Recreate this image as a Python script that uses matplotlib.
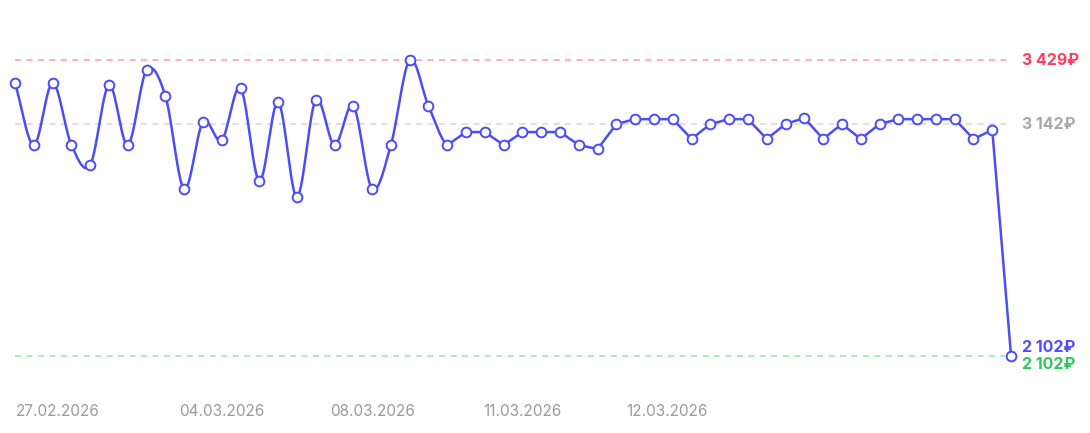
import numpy as np
import matplotlib.pyplot as plt

plt.rcParams['font.family'] = ['Inter', 'DejaVu Sans']

# price per point (RUB)
prices = [3326, 3048, 3326, 3048, 2958, 3317, 3048, 3384, 3268, 2851,
          3151, 3070, 3303, 2887, 3241, 2815, 3250, 3048, 3223, 2851,
          3048, 3429, 3223, 3048, 3106, 3106, 3048, 3106, 3106, 3106,
          3048, 3030, 3142, 3164, 3164, 3164, 3075, 3142, 3164, 3164,
          3075, 3142, 3169, 3075, 3142, 3075, 3142, 3164, 3164, 3164,
          3164, 3075, 3115, 2102]
date_labels = ["27.02.2026", "04.03.2026", "08.03.2026", "11.03.2026", "12.03.2026"]
date_pos = [2.25, 11, 19, 27, 34.7]

max_price = 3429
avg_price = 3142
min_price = 2102
last_price = 2102

blue = '#4d4df5'
idx = np.arange(len(prices))
vals = np.array(prices, dtype=float)

# the first part of the line is drawn smoothed (catmull-rom), the rest straight
smooth_end = 23
px, py = [], []
for i in range(smooth_end):
    p0 = vals[max(i - 1, 0)]
    p1 = vals[i]
    p2 = vals[i + 1]
    p3 = vals[min(i + 2, len(vals) - 1)]
    m1 = (p2 - p0) / 2 if i > 0 else (p2 - p1)
    m2 = (p3 - p1) / 2
    t = np.linspace(0, 1, 30)
    h00 = 2 * t**3 - 3 * t**2 + 1
    h10 = t**3 - 2 * t**2 + t
    h01 = -2 * t**3 + 3 * t**2
    h11 = t**3 - t**2
    px.extend(i + t)
    py.extend(h00 * p1 + h10 * m1 + h01 * p2 + h11 * m2)
px.extend(idx[smooth_end:])
py.extend(vals[smooth_end:])

fig = plt.figure(figsize=(10.9, 4.33), dpi=100)
ax = fig.add_axes([0, 0, 1, 1])
ax.set_xlim(-0.8, 57.2)
ax.set_ylim(1757, 3698)
ax.axis('off')

ax.plot([0, 53], [max_price] * 2, color='#ff9aae', lw=1.1, dashes=(4, 3.5))
ax.plot([0, 53], [avg_price] * 2, color='#d6d6d6', lw=1.1, dashes=(4, 3.5))
ax.plot([0, 52.7], [min_price] * 2, color='#95e6a8', lw=1.1, dashes=(4, 3.5))

ax.plot(px, py, color=blue, lw=1.8, zorder=3, solid_capstyle='round')
ax.plot(idx, vals, 'o', ms=7, mfc='white', mec=blue, mew=1.4, zorder=4)

lx = 53.6
ax.text(lx, max_price, "3 429₽", color='#ff3d5e', fontsize=11.5, fontweight='bold', va='center')
ax.text(lx, avg_price, "3 142₽", color='#a8a8a8', fontsize=11.5, fontweight='bold', va='center')
ax.text(lx, last_price + 40, "2 102₽", color=blue, fontsize=11.5, fontweight='bold', va='center')
ax.text(lx, min_price - 37, "2 102₽", color='#33c45a', fontsize=11.5, fontweight='bold', va='center')

for pos, lab in zip(date_pos, date_labels):
    ax.text(pos, 1855, lab, color='#9a9a9a', fontsize=11, ha='center', va='center')

fig.savefig('out.png', dpi=100)
